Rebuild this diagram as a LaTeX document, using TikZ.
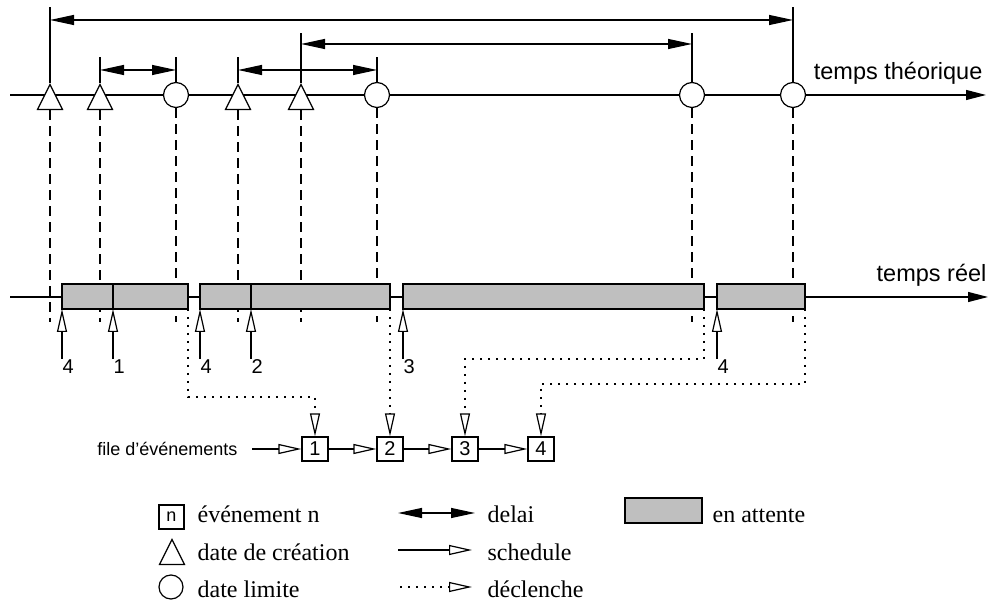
\documentclass[tikz,border=0pt]{standalone}
\usepackage{fontspec}
\setmainfont{Liberation Serif}
\setsansfont{Liberation Sans}
\usetikzlibrary{arrows.meta, shapes.geometric}

\tikzset{
  creation/.style={draw, fill=white, isosceles triangle, isosceles triangle stretches,
    shape border rotate=90, minimum width=12.5pt, minimum height=12.5pt, inner sep=0pt},
  limite/.style={draw, fill=white, circle, minimum size=12.5pt, inner sep=0pt},
  attente/.style={draw, fill=black!25, inner sep=0pt, outer sep=0pt, minimum height=12.5pt},
  evt/.style={draw, fill=white, minimum width=13pt, minimum height=12pt, inner sep=0pt},
  delai/.style={{Triangle[length=12pt,width=5pt]}-{Triangle[length=12pt,width=5pt]}},
  sched/.style={-{Triangle[open,length=11.5pt,width=5pt]}},
  trig/.style={sched, dash pattern=on 0.8pt off 3.2pt},
  proj/.style={dash pattern=on 5pt off 3pt},
  num/.style={font=\sffamily\fontsize{10}{12}\selectfont},
  axelabel/.style={font=\sffamily\fontsize{11.75}{14}\selectfont, inner sep=0pt, anchor=base east},
  leg/.style={font=\fontsize{12}{14}\selectfont, inner sep=0pt, anchor=base west}
}

\begin{document}
\begin{tikzpicture}[x=0.5pt, y=-0.5pt, line width=0.6pt, >={Triangle[length=10pt,width=5pt]}]
    \useasboundingbox (0,0) rectangle (991,603);

    % niveaux des delais
    \coordinate (t4)  at (0,7);
    \coordinate (h4)  at (0,20);
    \coordinate (t3)  at (0,33);
    \coordinate (h3)  at (0,44);
    \coordinate (t12) at (0,57);
    \coordinate (h12) at (0,70);
    \coordinate (pe)  at (0,322);

    % axe du temps theorique
    \node[axelabel] (tth) at (983,80) {temps théorique};
    \coordinate (ta) at (10,95);
    \coordinate (tb) at (986,95);
    \draw[->] (ta) -- (tb);

    % axe du temps reel
    \node[axelabel] (trl) at (987,282) {temps réel};
    \coordinate (ra) at (10,297);
    \coordinate (rb) at (988,297);
    \draw[->] (ra) -- (rb);

    % dates de creation
    \node[creation, anchor=apex] (cr4) at (50,83)  {};
    \node[creation, anchor=apex] (cr1) at (100,83) {};
    \node[creation, anchor=apex] (cr2) at (238,83) {};
    \node[creation, anchor=apex] (cr3) at (301,83) {};
    % dates limites
    \node[limite] (dl1) at (176,95) {};
    \node[limite] (dl2) at (377,95) {};
    \node[limite] (dl3) at (692,95) {};
    \node[limite] (dl4) at (793,95) {};

    % delais
    \draw (cr4.apex) -- (cr4.apex |- t4);
    \draw (dl4.north) -- (dl4.north |- t4);
    \draw[delai] (cr4.apex |- h4) -- (dl4.north |- h4);
    \draw (cr3.apex) -- (cr3.apex |- t3);
    \draw (dl3.north) -- (dl3.north |- t3);
    \draw[delai] (cr3.apex |- h3) -- (dl3.north |- h3);
    \draw (cr1.apex) -- (cr1.apex |- t12);
    \draw (dl1.north) -- (dl1.north |- t12);
    \draw[delai] (cr1.apex |- h12) -- (dl1.north |- h12);
    \draw (cr2.apex) -- (cr2.apex |- t12);
    \draw (dl2.north) -- (dl2.north |- t12);
    \draw[delai] (cr2.apex |- h12) -- (dl2.north |- h12);

    % projections vers le temps reel
    \foreach \m in {cr4,cr1,cr2,cr3}
      \draw[proj] (\m.lower side) -- (\m.lower side |- pe);
    \foreach \m in {dl1,dl2,dl3,dl4}
      \draw[proj] (\m.south) -- (\m.south |- pe);

    % periodes d'attente
    \node[attente, minimum width=63pt,    anchor=south west] (w1) at (62,309)  {};
    \node[attente, minimum width=95pt,    anchor=south west] (w2) at (200,309) {};
    \node[attente, minimum width=150.5pt, anchor=south west] (w3) at (403,309) {};
    \node[attente, minimum width=44pt,    anchor=south west] (w4) at (717,309) {};

    % schedule
    \coordinate (s1) at (62,359);
    \coordinate (s2) at (113,359);
    \coordinate (s3) at (200,359);
    \coordinate (s4) at (251,359);
    \coordinate (s5) at (403,359);
    \coordinate (s6) at (717,359);
    \draw (s2 |- w1.north) -- (s2 |- w1.south);
    \draw (s4 |- w2.north) -- (s4 |- w2.south);
    \foreach \i/\t in {1/4,2/1,3/4,4/2,5/3,6/4} {
      \draw[sched] (s\i) -- (s\i |- w1.south);
      \node[num, anchor=north west, inner sep=0pt] (n\i) at (s\i) {\t};
    }

    % file d'evenements
    \node[anchor=east, inner xsep=7pt, inner ysep=0pt, font=\sffamily\fontsize{9}{11}\selectfont]
         (fq) at (252,449) {file d’événements};
    \node[evt, num] (q1) at (315,449) {1};
    \node[evt, num] (q2) at (390,449) {2};
    \node[evt, num] (q3) at (465,449) {3};
    \node[evt, num] (q4) at (541,449) {4};
    \draw[sched] (fq) -- (q1);
    \draw[sched] (q1) -- (q2);
    \draw[sched] (q2) -- (q3);
    \draw[sched] (q3) -- (q4);

    % declenchements
    \coordinate (k1) at (0,397);
    \coordinate (k3) at (0,359);
    \coordinate (k4) at (0,384);
    \draw[trig] (w1.south east) |- (q1.north |- k1) -- (q1.north);
    \draw[trig] (w2.south east) -- (w2.south east |- q2.north);
    \draw[trig] (w3.south east) |- (q3.north |- k3) -- (q3.north);
    \draw[trig] (w4.south east) |- (q4.north |- k4) -- (q4.north);

    % legende
    \node[evt, font=\sffamily\fontsize{9}{11}\selectfont, minimum width=12.5pt] (lgn) at (171.5,517) {n};
    \node[creation, anchor=apex] (lgc) at (172,538) {};
    \node[limite, minimum size=12pt] (lgl) at (171,587) {};
    \node[leg] (lgt1) at (197,523) {événement n};
    \node[leg] (lgt2) at (197,561) {date de création};
    \node[leg] (lgt3) at (197,598) {date limite};

    \coordinate (la) at (398,513);
    \coordinate (lb) at (475,513);
    \coordinate (lc) at (398,550);
    \coordinate (ld) at (472,550);
    \coordinate (le) at (400,587);
    \coordinate (lf) at (472,587);
    \draw[delai] (la) -- (lb);
    \draw[sched] (lc) -- (ld);
    \draw[trig]  (le) -- (lf);
    \node[leg] (lgt4) at (487,523) {delai};
    \node[leg] (lgt5) at (487,561) {schedule};
    \node[leg] (lgt6) at (487,598) {déclenche};

    \node[attente, minimum width=38.5pt, anchor=north west] (lgw) at (625,498) {};
    \node[leg] (lgt7) at (712,523) {en attente};
  \end{tikzpicture}
\end{document}
